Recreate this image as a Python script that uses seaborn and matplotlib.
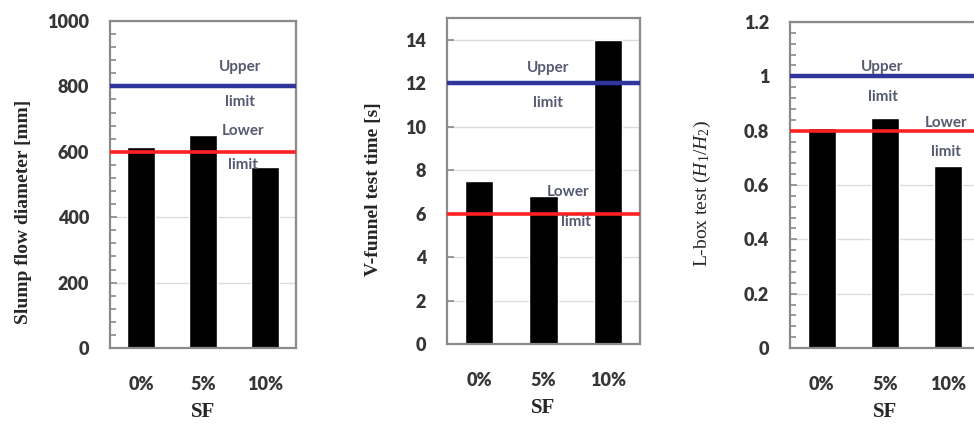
import matplotlib
matplotlib.use('Agg')
import pandas as pd
import matplotlib.pyplot as plt
from matplotlib.ticker import MultipleLocator, FuncFormatter
import seaborn as sns

# SF content and measured fresh properties
sf_levels = ['0%', '5%', '10%']
slump_flow = [615, 652, 553]
v_funnel_time = [7.5, 6.8, 14.0]
l_box_ratio = [0.81, 0.845, 0.67]

# acceptance limits (lower, upper)
slump_limits = [600, 800]
v_funnel_limits = [6, 12]
l_box_limits = [0.8, 1.0]

sns.set_style('white')
plt.rcParams['font.family'] = ['Lato', 'DejaVu Sans']
plt.rcParams['mathtext.fontset'] = 'custom'
plt.rcParams['mathtext.rm'] = 'Liberation Serif'
plt.rcParams['mathtext.it'] = 'Liberation Serif:italic'

tick_color = '#363636'
note_color = '#555a70'
spine_color = '#8a8a8a'

panels = [
    dict(values=slump_flow, limits=slump_limits, ylabel='Slump flow diameter [mm]', bold=True,
         ylim=1000, major=200, minor=40, rect=[110, 348, 186, 327],
         ylab=(-0.42, 0.416), notes=[(1.6, 860, 'Upper'), (1.6, 752, 'limit'),
                                     (1.65, 665, 'Lower'), (1.65, 560, 'limit')]),
    dict(values=v_funnel_time, limits=v_funnel_limits, ylabel='V-funnel test time [s]', bold=True,
         ylim=15, major=2, minor=None, rect=[447, 344, 193, 326],
         ylab=(-0.337, 0.475), notes=[(1.07, 12.7, 'Upper'), (1.07, 11.1, 'limit'),
                                      (1.38, 7.0, 'Lower'), (1.5, 5.6, 'limit')]),
    dict(values=l_box_ratio, limits=l_box_limits, ylabel=r'L-box test ($H_1/H_2$)', bold=False,
         ylim=1.2, major=0.2, minor=0.04, rect=[790, 348, 190, 326],
         ylab=(-0.405, 0.475), notes=[(0.96, 1.035, 'Upper'), (0.96, 0.925, 'limit'),
                                      (1.97, 0.83, 'Lower'), (1.97, 0.72, 'limit')]),
]

W, H = 974, 424
fig = plt.figure(figsize=(W / 100, H / 100), dpi=100)

for p in panels:
    left, bottom_px, width, height = p['rect']
    ax = fig.add_axes([left / W, (H - bottom_px) / H, width / W, height / H])
    df = pd.DataFrame({'SF': sf_levels, 'value': p['values']})
    sns.barplot(data=df, x='SF', y='value', color='black', width=0.44,
                saturation=1, ax=ax, zorder=2)
    ax.set_xlim(-0.5, 2.5)
    ax.set_ylim(0, p['ylim'])
    ax.yaxis.set_major_locator(MultipleLocator(p['major']))
    if p['minor']:
        ax.yaxis.set_minor_locator(MultipleLocator(p['minor']))
    ax.yaxis.set_major_formatter(FuncFormatter(lambda v, pos: f'{v:g}'))
    ax.grid(axis='y', color='#dcdcdc', linewidth=1, zorder=0)
    ax.set_axisbelow(True)

    lo, hi = p['limits']
    ax.axhline(hi, color='#30359a', linewidth=3.2, zorder=3)
    ax.axhline(lo, color='#ff2020', linewidth=2.6, zorder=3)
    for x, y, s in p['notes']:
        ax.text(x, y, s, color=note_color, fontsize=11, fontweight='bold',
                ha='center', va='center', zorder=4)

    ax.tick_params(axis='y', which='major', left=True, direction='in', length=5, width=1.2,
                   color=spine_color, pad=15, labelsize=13, labelcolor=tick_color)
    ax.tick_params(axis='y', which='minor', left=True, direction='in', length=4, width=1.2,
                   color=spine_color)
    ax.tick_params(axis='x', length=0, pad=20, labelsize=13, labelcolor=tick_color)
    for sp in ax.spines.values():
        sp.set_color(spine_color)
        sp.set_linewidth(1.6)

    ax.set_xlabel('SF', fontsize=15, fontweight='bold', family='Liberation Serif')
    ax.xaxis.set_label_coords(0.5, -0.165)
    ax.set_ylabel(p['ylabel'], fontsize=14, family='Liberation Serif',
                  fontweight='bold' if p['bold'] else 'normal')
    ax.yaxis.set_label_coords(*p['ylab'])
    plt.setp(ax.get_xticklabels() + ax.get_yticklabels(), fontweight='heavy')

fig.savefig('out.png', dpi=100)
